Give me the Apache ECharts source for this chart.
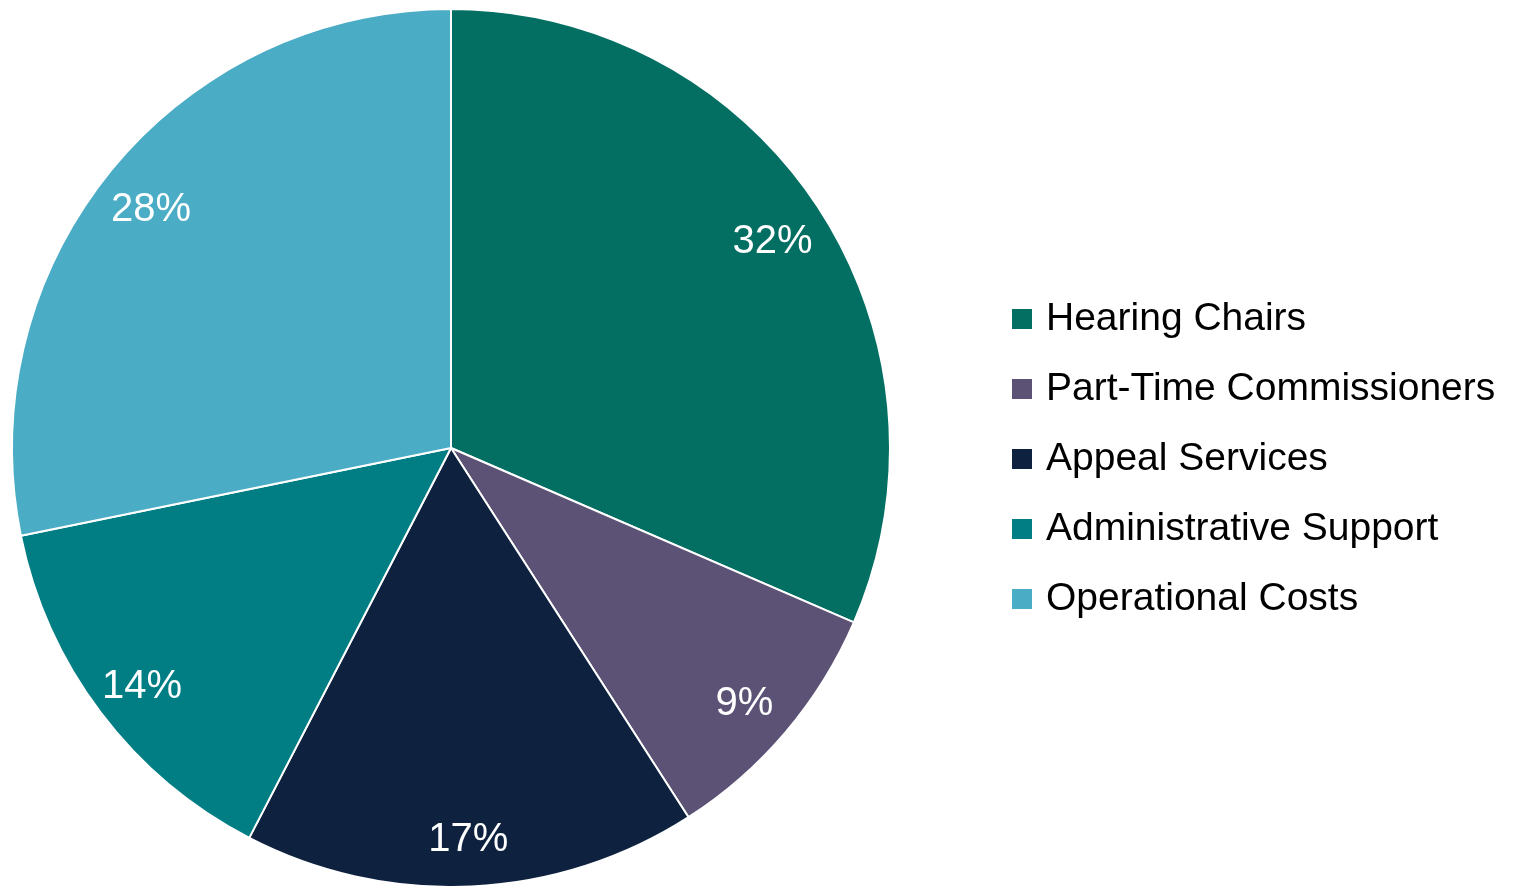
<!DOCTYPE html>
<html>
<head>
    <meta charset="utf-8">
    <title>ECharts</title>
    <script src="https://cdn.jsdelivr.net/npm/echarts@6/dist/echarts.min.js"></script>
    <style>
        html, body { margin: 0; padding: 0; background: #fff; }
    </style>
</head>
<body>
<div id="main" style="width: 1518px;height:886px;"></div>
<script type="text/javascript">
    var categories = ['Hearing Chairs', 'Part-Time Commissioners', 'Appeal Services', 'Administrative Support', 'Operational Costs'];
    var shares = [31.5, 9.4, 16.7, 14.2, 28.2];
    var colors = ['#036e62', '#5b5275', '#0e2240', '#007e84', '#4bacc6'];

    var font = "'Liberation Sans Narrow', 'Arial Narrow', 'Liberation Sans', sans-serif";

    var pieData = categories.map(function (name, i) {
        return { name: name, value: shares[i], itemStyle: { color: colors[i] } };
    });
    // transparent ring, used only to place the percent labels further out
    var labelData = categories.map(function (name, i) {
        return { name: name, value: shares[i] };
    });

    var myChart = echarts.init(document.getElementById('main'));
    var option = {
        animation: false,
        legend: {
            orient: 'vertical',
            left: 1010,
            top: 296,
            padding: 0,
            itemWidth: 22,
            itemHeight: 22,
            itemGap: 24,
            icon: 'rect',
            data: categories,
            textStyle: {
                fontFamily: font,
                fontSize: 39,
                lineHeight: 46,
                color: '#000',
                padding: [0, 0, 0, 8]
            }
        },
        series: [
            {
                type: 'pie',
                center: [451, 448],
                radius: 439,
                startAngle: 90,
                clockwise: true,
                silent: true,
                data: pieData,
                label: { show: false },
                labelLine: { show: false },
                itemStyle: { borderColor: '#fff', borderWidth: 2 }
            },
            {
                type: 'pie',
                center: [451, 448],
                radius: [327, 439],
                startAngle: 90,
                clockwise: true,
                silent: true,
                data: labelData,
                itemStyle: { color: 'rgba(0,0,0,0)', borderWidth: 0 },
                label: {
                    show: true,
                    position: 'inside',
                    offset: [-1, 6],
                    formatter: function (p) { return Math.round(p.value) + '%'; },
                    color: '#fff',
                    fontFamily: font,
                    fontSize: 40
                },
                labelLine: { show: false }
            }
        ]
    };
    myChart.setOption(option);
</script>
</body>
</html>
